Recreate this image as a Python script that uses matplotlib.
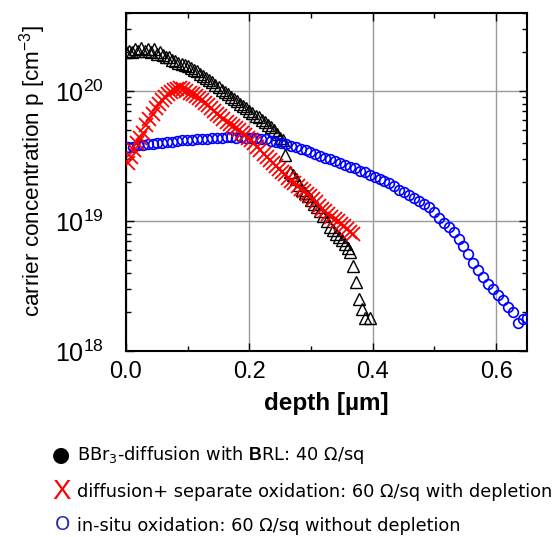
import matplotlib
matplotlib.use('Agg')
import matplotlib.pyplot as plt
from matplotlib.ticker import FixedLocator, MultipleLocator, LogLocator, NullFormatter

plt.rcParams['mathtext.fontset'] = 'custom'
plt.rcParams['mathtext.rm'] = 'Liberation Sans'
plt.rcParams['mathtext.it'] = 'Liberation Sans:italic'
plt.rcParams['mathtext.bf'] = 'Liberation Sans:bold'
plt.rcParams['font.family'] = ['Liberation Sans', 'DejaVu Sans']

# ---- data: depth [um], carrier concentration [cm^-3] ----
black_depth = [0.000, 0.005, 0.010, 0.015, 0.020, 0.025, 0.030, 0.035, 0.040, 0.045,
               0.050, 0.055, 0.060, 0.065, 0.070, 0.075, 0.080, 0.085, 0.090, 0.095,
               0.100, 0.105, 0.110, 0.115, 0.120, 0.125, 0.130, 0.135, 0.140, 0.145,
               0.150, 0.155, 0.160, 0.165, 0.170, 0.175, 0.180, 0.185, 0.190, 0.195,
               0.200, 0.205, 0.210, 0.215, 0.220, 0.225, 0.230, 0.235, 0.240, 0.245,
               0.250, 0.255, 0.258, 0.266, 0.270, 0.275, 0.280, 0.285, 0.290, 0.295,
               0.300, 0.305, 0.310, 0.315, 0.320, 0.325, 0.330, 0.335, 0.340, 0.345,
               0.350, 0.355, 0.360, 0.363, 0.368, 0.373, 0.377, 0.383, 0.388, 0.396]
black_conc_e20 = [2.00, 2.05, 2.00, 2.12, 2.05, 2.15, 2.05, 2.12, 2.00, 2.10,
                  1.95, 2.00, 1.90, 1.85, 1.85, 1.75, 1.72, 1.65, 1.62, 1.60,
                  1.55, 1.50, 1.45, 1.42, 1.35, 1.32, 1.27, 1.22, 1.18, 1.12,
                  1.08, 1.03, 0.99, 0.95, 0.91, 0.87, 0.84, 0.80, 0.77, 0.74,
                  0.71, 0.68, 0.65, 0.63, 0.60, 0.58, 0.55, 0.53, 0.50, 0.47,
                  0.44, 0.42, 0.32, 0.24, 0.225, 0.21, 0.19, 0.175, 0.165, 0.155,
                  0.145, 0.135, 0.128, 0.120, 0.110, 0.100, 0.090, 0.085, 0.080, 0.076,
                  0.071, 0.067, 0.062, 0.058, 0.045, 0.034, 0.025, 0.021, 0.018, 0.018]

red_depth = [0.003, 0.008, 0.013, 0.018, 0.023, 0.028, 0.033, 0.038, 0.043, 0.048,
             0.053, 0.058, 0.063, 0.068, 0.073, 0.078, 0.083, 0.088, 0.093, 0.098,
             0.103, 0.108, 0.113, 0.118, 0.123, 0.128, 0.133, 0.138, 0.143, 0.148,
             0.153, 0.158, 0.163, 0.168, 0.173, 0.178, 0.183, 0.188, 0.193, 0.198,
             0.203, 0.208, 0.213, 0.218, 0.223, 0.228, 0.233, 0.238, 0.243, 0.248,
             0.253, 0.258, 0.263, 0.268, 0.273, 0.278, 0.283, 0.288, 0.293, 0.298,
             0.303, 0.308, 0.313, 0.318, 0.323, 0.328, 0.333, 0.338, 0.343, 0.348,
             0.353, 0.358, 0.363, 0.368]
red_conc_e20 = [0.28, 0.31, 0.35, 0.40, 0.44, 0.48, 0.55, 0.61, 0.67, 0.74,
                0.80, 0.85, 0.91, 0.96, 0.99, 1.02, 1.04, 1.05, 1.04, 1.00,
                0.97, 0.95, 0.92, 0.89, 0.85, 0.81, 0.78, 0.74, 0.70, 0.67,
                0.64, 0.61, 0.58, 0.56, 0.54, 0.52, 0.50, 0.48, 0.46, 0.44,
                0.42, 0.40, 0.37, 0.35, 0.33, 0.31, 0.295, 0.28, 0.265, 0.25,
                0.24, 0.23, 0.215, 0.205, 0.195, 0.185, 0.178, 0.170, 0.163, 0.155,
                0.147, 0.140, 0.131, 0.125, 0.120, 0.114, 0.108, 0.104, 0.100, 0.095,
                0.091, 0.087, 0.083, 0.080]

blue_depth = [0.003, 0.011, 0.019, 0.027, 0.035, 0.043, 0.051, 0.059, 0.067, 0.075,
              0.083, 0.091, 0.099, 0.107, 0.115, 0.123, 0.131, 0.139, 0.147, 0.155,
              0.163, 0.171, 0.179, 0.187, 0.195, 0.203, 0.211, 0.219, 0.227, 0.235,
              0.243, 0.251, 0.259, 0.267, 0.275, 0.283, 0.291, 0.299, 0.307, 0.315,
              0.323, 0.331, 0.339, 0.347, 0.355, 0.363, 0.371, 0.379, 0.387, 0.395,
              0.403, 0.411, 0.419, 0.427, 0.435, 0.443, 0.451, 0.459, 0.467, 0.475,
              0.483, 0.491, 0.499, 0.507, 0.515, 0.523, 0.531, 0.539, 0.547, 0.555,
              0.563, 0.571, 0.579, 0.587, 0.595, 0.603, 0.611, 0.619, 0.627, 0.635,
              0.643, 0.650]
blue_conc_e19 = [3.70, 3.75, 3.82, 3.85, 3.90, 3.95, 4.00, 4.02, 4.08, 4.10,
                 4.15, 4.18, 4.20, 4.22, 4.25, 4.30, 4.32, 4.38, 4.35, 4.40,
                 4.42, 4.45, 4.40, 4.42, 4.38, 4.40, 4.35, 4.30, 4.25, 4.15,
                 4.05, 3.98, 3.90, 3.80, 3.72, 3.62, 3.50, 3.40, 3.30, 3.18,
                 3.08, 3.00, 2.90, 2.80, 2.72, 2.62, 2.55, 2.45, 2.38, 2.28,
                 2.20, 2.12, 2.02, 1.95, 1.85, 1.75, 1.67, 1.58, 1.50, 1.42,
                 1.35, 1.28, 1.18, 1.05, 0.97, 0.90, 0.82, 0.73, 0.64, 0.56,
                 0.48, 0.42, 0.37, 0.33, 0.30, 0.27, 0.245, 0.22, 0.20, 0.165,
                 0.175, 0.18]

x_ticks = [0.0, 0.2, 0.4, 0.6]
x_ticklabels = ['0.0', '0.2', '0.4', '0.6']
y_ticks = [1e18, 1e19, 1e20]
y_ticklabels = [r'$\mathregular{10^{18}}$', r'$\mathregular{10^{19}}$', r'$\mathregular{10^{20}}$']

legend_entries = [
    ('\u25CF', 'black', r'BBr$_{\mathregular{3}}$-diffusion with $\mathbf{B}$RL: 40 Ω/sq'),
    ('X', 'red', 'diffusion+ separate oxidation: 60 Ω/sq with depletion'),
    ('O', '#2b2bb0', 'in-situ oxidation: 60 Ω/sq without depletion'),
]

W, H = 555, 537
fig = plt.figure(figsize=(W / 100, H / 100), dpi=100)
ax = fig.add_axes([126 / W, 1 - 351 / H, (527 - 126) / W, (351 - 13) / H])

ax.plot(black_depth, [v * 1e20 for v in black_conc_e20], linestyle='none',
        marker='^', mfc='none', mec='black', ms=8, mew=1.0, zorder=3)
ax.plot(blue_depth, [v * 1e19 for v in blue_conc_e19], linestyle='none',
        marker='o', mfc='none', mec='#0000ff', ms=7, mew=1.2, zorder=4)
ax.plot(red_depth, [v * 1e20 for v in red_conc_e20], linestyle='none',
        marker='x', color='#ff0000', ms=10, mew=1.3, zorder=5)

ax.set_yscale('log')
ax.set_xlim(0, 0.65)
ax.set_ylim(1e18, 4e20)

ax.xaxis.set_major_locator(FixedLocator(x_ticks))
ax.set_xticklabels(x_ticklabels)
ax.xaxis.set_minor_locator(MultipleLocator(0.1))
ax.yaxis.set_major_locator(FixedLocator(y_ticks))
ax.set_yticklabels(y_ticklabels)
ax.yaxis.set_minor_locator(LogLocator(base=10, subs=[2, 3, 4, 5, 6, 7, 8, 9]))
ax.yaxis.set_minor_formatter(NullFormatter())

ax.grid(which='major', color='#9a9a9a', lw=1.0, zorder=1)
ax.set_axisbelow(True)
for s in ax.spines.values():
    s.set_linewidth(1.5)
ax.tick_params(which='both', direction='in', top=True, right=True, width=1.0)
ax.tick_params(which='major', length=6)
ax.tick_params(which='minor', length=3.5)
ax.tick_params(axis='x', which='major', labelsize=17, pad=7)
ax.tick_params(axis='y', which='major', labelsize=18, pad=16)

ax.set_xlabel('depth [µm]', fontsize=17.5, fontweight='bold', labelpad=7)
fig.text(33 / W, 1 - 171 / H, r'carrier concentration p [cm$^{\mathregular{-3}}$]',
         rotation=90, ha='center', va='center', fontsize=16.2)

ys = [455, 492, 526]
for (sym, col, txt), y in zip(legend_entries, ys):
    if sym == 'X':
        fig.text(62 / W, 1 - y / H, sym, color=col, ha='center', va='center',
                 fontsize=20, family='Liberation Sans')
    elif sym == 'O':
        fig.text(63 / W, 1 - (y - 2) / H, sym, color=col, ha='center', va='center',
                 fontsize=14, family='DejaVu Sans')
    else:
        fig.text(61 / W, 1 - y / H, sym, color=col, ha='center', va='center',
                 fontsize=15, family='DejaVu Sans')
    fig.text(77 / W, 1 - y / H, txt, color='black', ha='left', va='center',
             fontsize=12.8, family='DejaVu Sans')

fig.savefig('out.png', dpi=100)
